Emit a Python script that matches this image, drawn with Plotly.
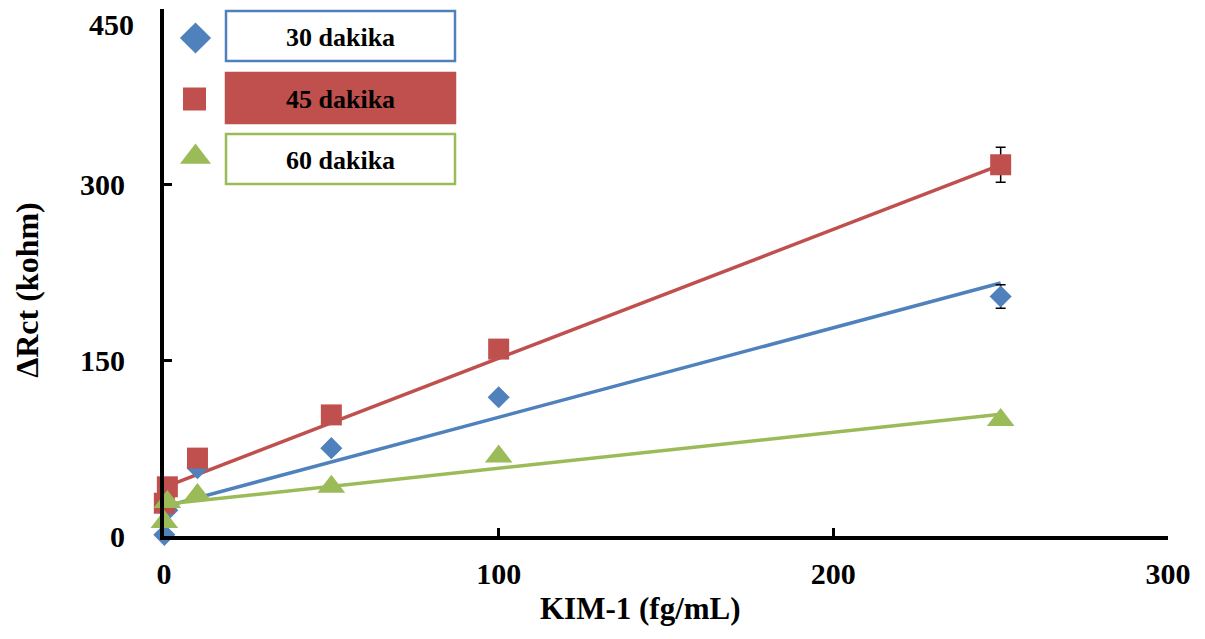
import plotly.graph_objects as go

# ---------------- data ----------------
conc = [0.1, 1, 10, 50, 100, 250]            # KIM-1 (fg/mL)
rct_30 = [1, 22, 58, 75, 118.5, 204.5]       # 30 dakika
rct_45 = [28, 42, 66.5, 103.4, 159.6, 317]   # 45 dakika
rct_60 = [12, 29, 35, 42, 67.8, 99]          # 60 dakika
err_30 = [1, 1, 2, 2, 3, 10]
err_45 = [1, 1, 2, 2, 3, 15]
err_60 = [1, 1, 1, 1, 3, 2]

trend_x = [0, 250]
trend_30 = [25, 216]
trend_45 = [41.5, 317]
trend_60 = [27, 104]

series_names = ["30 dakika", "45 dakika", "60 dakika"]
x_ticks = [0, 100, 200, 300]
y_ticks = [0, 150, 300, 450]
x_title = "KIM-1 (fg/mL)"
y_title = "ΔRct (kohm)"

BLUE, RED, GREEN = "#4F81BD", "#C0504D", "#9BBB59"
FONT = "Liberation Serif"
TICK_SIZE = 30

fig = go.Figure()

# trend lines
for ty, col in [(trend_30, BLUE), (trend_45, RED), (trend_60, GREEN)]:
    fig.add_trace(go.Scatter(x=trend_x, y=ty, mode="lines",
                             line=dict(color=col, width=3.5),
                             showlegend=False, hoverinfo="skip",
                             cliponaxis=False))

# data points
for ys, es, col, sym, size, name in [
    (rct_30, err_30, BLUE, "diamond", 17, series_names[0]),
    (rct_45, err_45, RED, "square", 21, series_names[1]),
    (rct_60, err_60, GREEN, "triangle-up", 24, series_names[2]),
]:
    fig.add_trace(go.Scatter(
        x=conc, y=ys, mode="markers", name=name,
        marker=dict(symbol=sym, size=size, color=col, line=dict(width=0)),
        error_y=dict(type="data", array=es, color="black", thickness=1.5, width=5),
        showlegend=False, cliponaxis=False))

# ---------------- custom legend (overlay axis in page-pixel units) ----------------
legend_marker_x = [195.5, 194.5, 195.5]
legend_marker_y = [38, 99, 157]
legend_symbols = ["diamond", "square", "triangle-up"]
legend_sizes = [24, 23, 27]
legend_colors = [BLUE, RED, GREEN]
box_x0, box_x1 = 226, 455
box_y = [(11, 61), (73, 123), (134, 184)]

for mx, my, sym, sz, col in zip(legend_marker_x, legend_marker_y, legend_symbols, legend_sizes, legend_colors):
    fig.add_trace(go.Scatter(x=[mx], y=[my], xaxis="x2", yaxis="y2", mode="markers",
                             marker=dict(symbol=sym, size=sz, color=col),
                             showlegend=False, hoverinfo="skip", cliponaxis=False))

for i, ((y0, y1), col, name) in enumerate(zip(box_y, legend_colors, series_names)):
    fig.add_shape(type="rect", xref="x2", yref="y2", x0=box_x0, x1=box_x1, y0=y0, y1=y1,
                  line=dict(color=col, width=2.5),
                  fillcolor=(RED if i == 1 else "white"), layer="above")
    fig.add_annotation(xref="x2", yref="y2", x=(box_x0 + box_x1) / 2, y=(y0 + y1) / 2 + 1,
                       text=f"<b>{name}</b>", showarrow=False,
                       font=dict(family=FONT, size=26, color="black"))

# axis titles
fig.add_annotation(xref="paper", yref="paper", x=0.475, y=-0.1385, xanchor="center", yanchor="middle",
                   text=f"<b>{x_title}</b>", showarrow=False,
                   font=dict(family=FONT, size=31, color="black"))
fig.add_annotation(xref="paper", yref="paper", x=-0.1365, y=0.467, xanchor="center", yanchor="middle",
                   text=f"<b>{y_title}</b>", showarrow=False, textangle=-90,
                   font=dict(family=FONT, size=32, color="black"))
# top y tick label (drawn slightly below its tick as in the original)
fig.add_annotation(xref="paper", yref="y", x=-0.029, y=y_ticks[-1], yshift=-15,
                   xanchor="right", yanchor="middle", borderpad=0,
                   text=f"<b>{y_ticks[-1]}</b>", showarrow=False,
                   font=dict(family=FONT, size=TICK_SIZE, color="black"))

# figure is placed by the page with an 8px body margin; plot area lands at x 164-1168, y 9-536
fig.update_layout(
    width=1189, height=623,
    margin=dict(l=156, r=29, t=1, b=95),
    plot_bgcolor="white", paper_bgcolor="white",
    font=dict(family=FONT, color="black"),
    xaxis=dict(range=[0, 300], tickvals=x_ticks, ticktext=[f"<b>{v}</b>" for v in x_ticks],
               showgrid=False, zeroline=False, showline=True, linecolor="black", linewidth=4,
               ticks="inside", ticklen=8, tickwidth=3, tickcolor="black",
               tickfont=dict(family=FONT, size=TICK_SIZE, color="black"),
               ticklabelstandoff=8),
    yaxis=dict(range=[0, 450], tickvals=y_ticks,
               ticktext=[f"<b>{v}</b>" if v != y_ticks[-1] else "" for v in y_ticks],
               showgrid=False, zeroline=False, showline=True, linecolor="black", linewidth=4,
               ticks="inside", ticklen=8, tickwidth=3, tickcolor="black",
               tickfont=dict(family=FONT, size=TICK_SIZE, color="black"),
               ticklabelstandoff=29),
    xaxis2=dict(range=[164, 1168], overlaying="x", visible=False, fixedrange=True),
    yaxis2=dict(range=[536, 9], overlaying="y", visible=False, fixedrange=True),
    showlegend=False,
)

fig.write_html("out.html")
